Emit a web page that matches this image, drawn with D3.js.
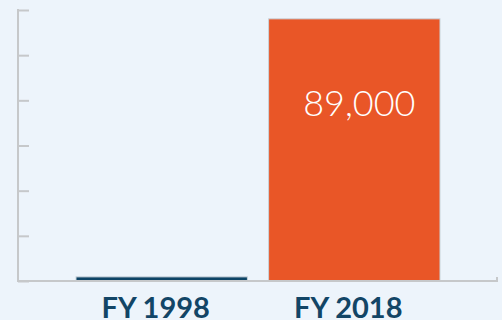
<!DOCTYPE html>
<html>
<head>
<meta charset="utf-8">
<script src="https://cdn.jsdelivr.net/npm/d3@7"></script>
<style>
  html, body { margin: 0; padding: 0; background: #edf4fb; }
  svg { display: block; }
</style>
</head>
<body>
<div id="chart"></div>
<script>
const categories = ["FY 1998", "FY 2018"]
const values = [1400, 89000]
const barLabels = ["", "89,000"]
const colors = ["#0d4466", "#e95627"]

const width = 502, height = 320
const margin = { top: 10, right: 5, bottom: 39, left: 18 }

const chart = d3.select("#chart").append("svg")
    .attr("width", width).attr("height", height)
    .attr("viewBox", [0, 0, width, height])

chart.append("rect").attr("width", width).attr("height", height).attr("fill", "#edf4fb")

var x = d3.scaleBand().domain(categories)
    .range([76, 440]).paddingInner(0.11).paddingOuter(0)
var y = d3.scaleLinear().domain([0, 92000]).range([height - margin.bottom, margin.top])

// y axis, ticks point inward, no labels
chart.append("g")
     .attr("transform", "translate(" + margin.left + ",0)")
     .call(d3.axisRight(y).tickValues(d3.range(0, 92001, 92000 / 6)).tickSize(11).tickFormat(""))
     .call(g => g.select(".domain").remove())
     .call(g => g.selectAll("line").attr("stroke", "#c6c8ca").attr("stroke-width", 2))

chart.append("line")
     .attr("x1", margin.left).attr("x2", margin.left)
     .attr("y1", y(92000) - 1).attr("y2", y(0) + 1)
     .attr("stroke", "#c6c8ca").attr("stroke-width", 2)

// bars
chart.append("g").selectAll("rect")
     .data(values)
     .join("rect")
     .attr("x", (d, i) => x(categories[i]))
     .attr("width", x.bandwidth())
     .attr("y", d => y(d))
     .attr("height", d => y(0) - y(d))
     .attr("fill", (d, i) => colors[i])
     .attr("stroke", "#c9d3da")
     .attr("stroke-width", 1)

// x axis baseline with small end tick
chart.append("path")
     .attr("d", `M${margin.left},${y(0)}H${width - margin.right}V${y(0) - 4}`)
     .attr("fill", "none")
     .attr("stroke", "#c6c8ca").attr("stroke-width", 2)

// value labels
chart.append("g").selectAll("text")
     .data(values)
     .join("text")
     .attr("x", (d, i) => x(categories[i]) + x.bandwidth() / 2 + 5)
     .attr("y", 116)
     .attr("text-anchor", "middle")
     .attr("fill", "white")
     .attr("font-family", "Lato, sans-serif")
     .attr("font-weight", 300)
     .attr("font-size", 36)
     .text((d, i) => barLabels[i])

// category labels
chart.append("g").selectAll("text")
     .data(categories)
     .join("text")
     .attr("x", d => x(d) + x.bandwidth() / 2 - 6)
     .attr("y", 318)
     .attr("text-anchor", "middle")
     .attr("fill", "#124566")
     .attr("font-family", "Lato, sans-serif")
     .attr("font-weight", 700)
     .attr("font-size", 29)
     .text(d => d)
</script>
</body>
</html>
